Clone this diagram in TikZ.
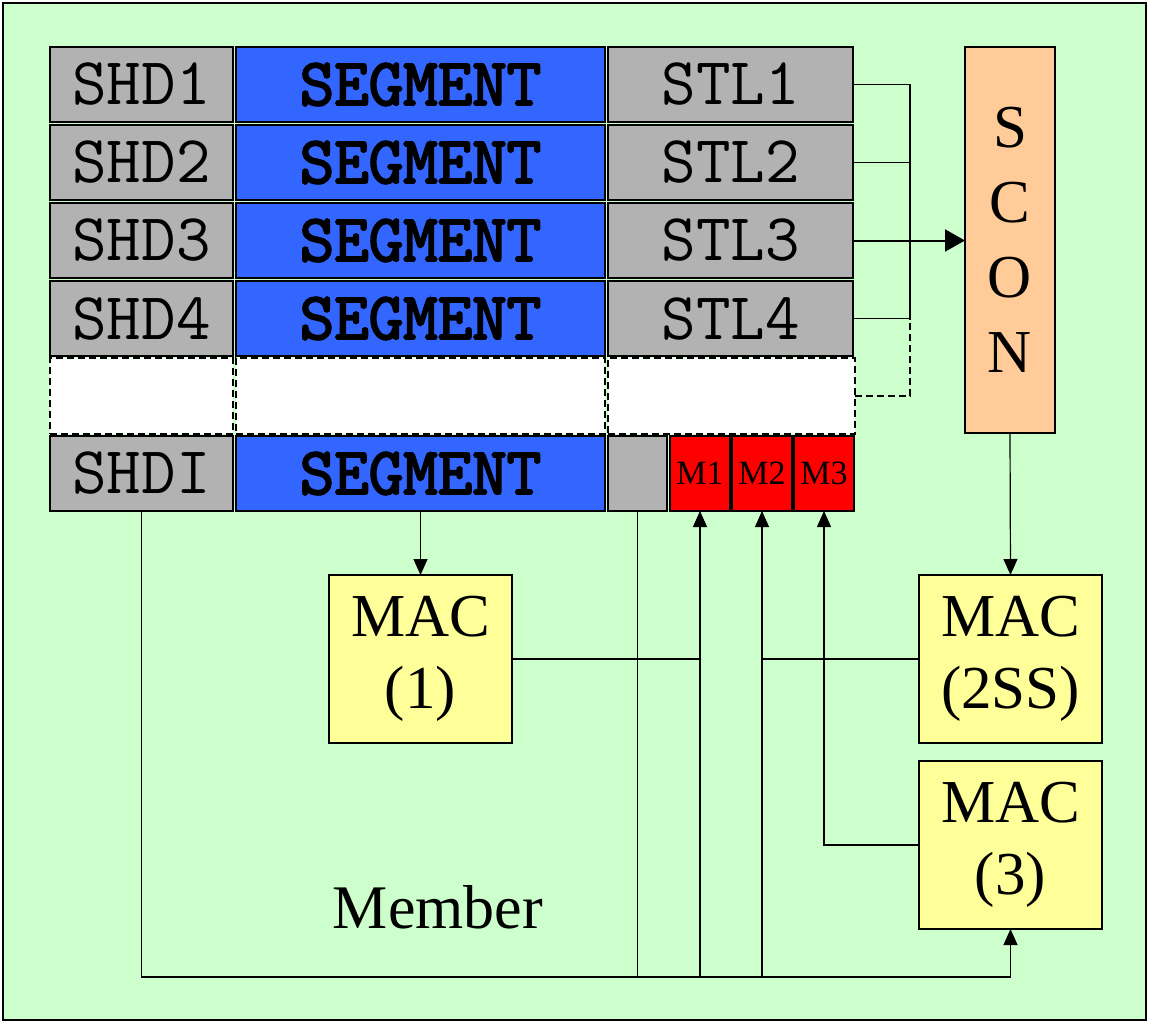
\documentclass[tikz,border=0pt]{standalone}
\usepackage{fontspec}
\setmainfont{Liberation Serif}
\newfontfamily\segfont[FakeBold=3]{Latin Modern Mono}
\usetikzlibrary{arrows.meta}
\definecolor{bggreen}{HTML}{CCFFCC}
\definecolor{cellgray}{HTML}{B2B2B2}
\definecolor{segblue}{HTML}{3366FF}
\definecolor{mred}{HTML}{FF0000}
\definecolor{macyellow}{HTML}{FFFF99}
\definecolor{sconorange}{HTML}{FFCC99}
\begin{document}
\begin{tikzpicture}[x=1pt,y=-1pt,
  cell/.style={draw=black, line width=1.5pt, inner sep=0pt, outer sep=0pt, anchor=north west},
  graycell/.style={cell, fill=cellgray, font=\fontsize{67}{69}\selectfont\ttfamily, minimum height=75pt},
  segcell/.style={cell, fill=segblue, font=\fontsize{67}{69}\selectfont\segfont, minimum width=369pt, minimum height=75pt},
  dashcell/.style={cell, fill=white, dash pattern=on 7pt off 4pt, line width=1.2pt, minimum height=76pt},
  mcell/.style={cell, fill=mred, font=\fontsize{34}{36}\selectfont, minimum width=60pt, minimum height=75pt},
  macbox/.style={cell, fill=macyellow, font=\fontsize{61}{72}\selectfont, align=center, minimum width=183pt, minimum height=168pt},
  conn/.style={draw=black, line width=1.2pt},
  arr/.style={conn, -{Triangle[length=16pt,width=14pt]}},
  bigarr/.style={conn, line width=2pt, -{Triangle[length=20pt,width=22pt]}}
]
\useasboundingbox (0,0) rectangle (1149,1023);
\draw[fill=bggreen, line width=1.5pt] (3,3) rectangle (1146,1020);

% rows
\foreach \i/\y in {1/47,2/125,3/203,4/281}{
  \node[graycell, minimum width=183pt] (shd\i) at (50,\y) {SHD\i};
  \node[segcell] (seg\i) at (236,\y) {SEGMENT};
  \node[graycell, minimum width=245pt] (stl\i) at (608,\y) {STL\i};
}
\node[dashcell, minimum width=183pt] (d1) at (50,358) {};
\node[dashcell, minimum width=369pt] (d2) at (236,358) {};
\node[dashcell, minimum width=247pt] (d3) at (608,358) {};

\node[graycell, minimum width=183pt] (shdi) at (50,436) {SHDI};
\node[segcell] (segi) at (236,436) {SEGMENT};
\node[cell, fill=cellgray, minimum width=59pt, minimum height=75pt] (gsm) at (608,436) {};
\node[mcell] (m1) at (670,436) {M1};
\node[mcell] (m2) at (732,436) {M2};
\node[mcell] (m3) at (794,436) {M3};

\node[cell, fill=sconorange, font=\fontsize{61}{75}\selectfont, align=center, minimum width=90pt, minimum height=386pt] (scon) at (965,47) {S\\C\\O\\N};

\node[macbox] (mac1) at (329,575) {MAC\\(1)};
\node[macbox] (mac2) at (919,575) {MAC\\(2SS)};
\node[macbox] (mac3) at (919,761) {MAC\\(3)};

\node[font=\fontsize{62}{64}\selectfont] (member) at (438,907) {Member};

% STL collection
\coordinate (jx) at (910,0);
\coordinate (busy) at (0,977);
\draw[conn] (stl1.east) -| (jx |- stl4.east) -- (stl4.east);
\draw[conn] (stl2.east) -- (jx |- stl2.east);
\draw[conn, dash pattern=on 7pt off 4pt] (d3.east) -| (jx |- stl4.east);
\draw[bigarr] (stl3.east) -- (scon.west |- stl3.east);

\draw[arr] (scon.south) -- (mac2.north);
\draw[arr] (segi.south) -- (mac1.north);

% bottom bus
\draw[arr] (shdi.south) -- (shdi.south |- busy) -| (mac3.south);
\draw[conn] (gsm.south) -- (gsm.south |- busy);
\draw[arr] (m1.south |- busy) -- (m1.south);
\draw[arr] (m2.south |- busy) -- (m2.south);
\draw[conn] (mac1.east) -- (mac1.east -| m1.south);
\draw[conn] (mac2.west) -- (mac2.west -| m2.south);
\draw[arr] (mac3.west) -| (m3.south);
\end{tikzpicture}
\end{document}
